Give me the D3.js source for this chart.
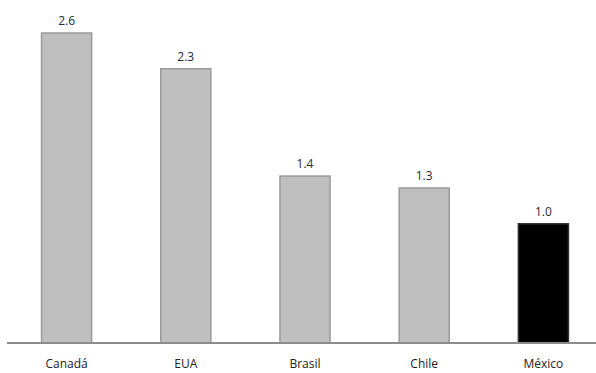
<!DOCTYPE html>
<html>
<head>
<meta charset="utf-8">
<script src="https://cdn.jsdelivr.net/npm/d3@7"></script>
<style>
  body { margin: 0; background: #fff; }
  text { font-family: "Open Sans", "Noto Sans", sans-serif; }
</style>
</head>
<body>
<div id="chart"></div>
<script>
const countries = ['Canadá', 'EUA', 'Brasil', 'Chile', 'México']
const values = [2.6, 2.3, 1.4, 1.3, 1.0]
const highlight = 'México'

const w = 596
const h = 373
const baseline = 343

const svg = d3.select('#chart')
  .append('svg')
  .attr('width', w)
  .attr('height', h)

const xScale = d3.scaleBand()
  .domain(countries)
  .range([7, 603])
  .paddingInner(0.58)
  .paddingOuter(0.29)

const yScale = d3.scaleLinear()
  .domain([0, 2.6])
  .range([baseline, 33])

const data = countries.map((c, i) => ({ name: c, value: values[i] }))

svg.selectAll('rect')
  .data(data)
  .enter()
  .append('rect')
  .attr('x', d => xScale(d.name))
  .attr('y', d => yScale(d.value))
  .attr('width', xScale.bandwidth())
  .attr('height', d => baseline - yScale(d.value))
  .attr('fill', d => d.name === highlight ? '#000' : '#bfbfbf')
  .attr('stroke', d => d.name === highlight ? '#333' : '#9a9a9a')
  .attr('stroke-width', 1.5)

// value labels
svg.selectAll('.val')
  .data(data)
  .enter()
  .append('text')
  .attr('class', 'val')
  .attr('x', d => xScale(d.name) + xScale.bandwidth() / 2)
  .attr('y', d => yScale(d.value) - 8)
  .attr('text-anchor', 'middle')
  .attr('font-size', 12)
  .attr('fill', '#2a2a3a')
  .text(d => d.value.toFixed(1))

// x axis
const xAxis = d3.axisBottom(xScale).tickSize(0).tickPadding(16)
const gx = svg.append('g')
  .attr('transform', 'translate(0,' + baseline + ')')
  .call(xAxis)
gx.select('.domain').attr('stroke', '#8c8c8c').attr('stroke-width', 2)
  .attr('d', 'M7,0H596')
gx.selectAll('text')
  .attr('font-size', 12)
  .attr('fill', '#222')
  .style('font-family', '"Open Sans", "Noto Sans", sans-serif')
</script>
</body>
</html>
